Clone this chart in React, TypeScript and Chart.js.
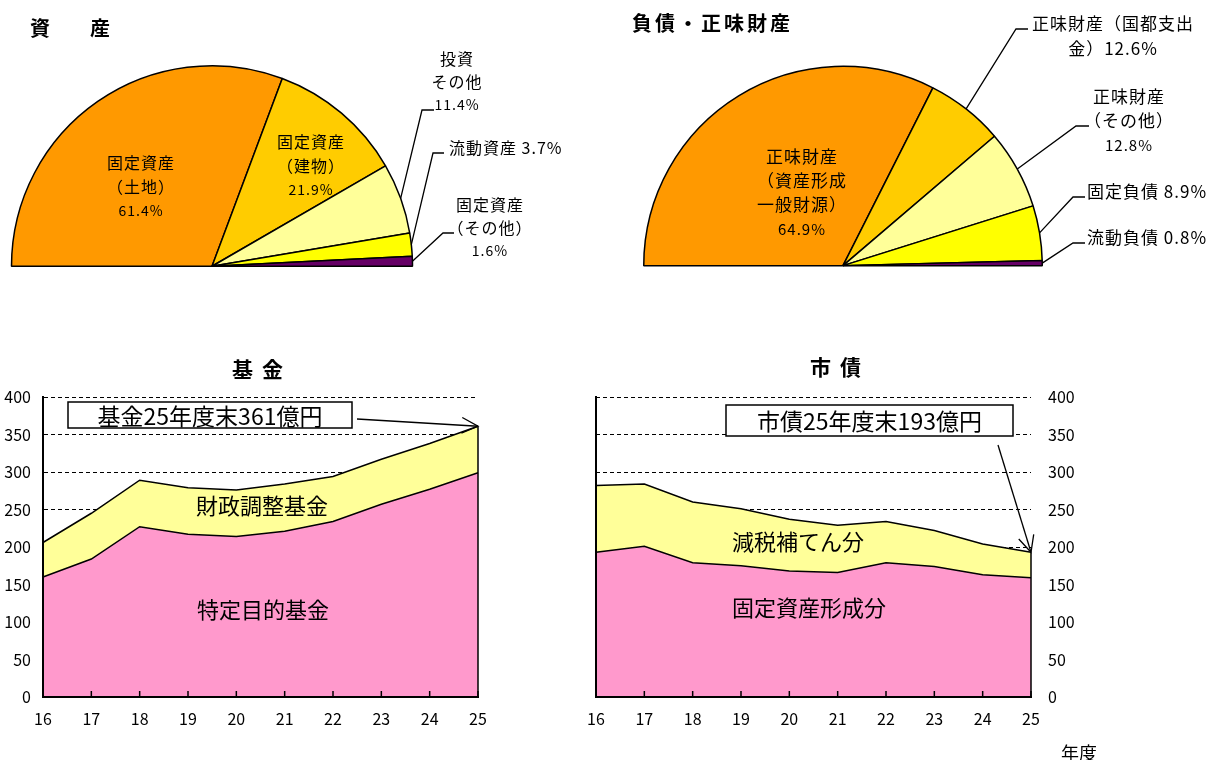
import React, { useEffect, useRef } from "react";
import { Chart, registerables } from "chart.js";

Chart.register(...registerables);

// ---------------- data ----------------
const assetCategories = ["固定資産（土地）", "固定資産（建物）", "投資その他", "流動資産", "固定資産（その他）"];
const assetShares = [61.4, 21.9, 11.4, 3.7, 1.6];

const liabilityCategories = ["正味財産（資産形成一般財源）", "正味財産（国都支出金）", "正味財産（その他）", "固定負債", "流動負債"];
const liabilityShares = [64.9, 12.6, 12.8, 8.9, 0.8];

const fiscalYears = ["16", "17", "18", "19", "20", "21", "22", "23", "24", "25"];
const fundSpecificPurpose = [160, 184, 227, 217, 214, 221, 234, 257, 277, 299];
const fundFiscalAdjustment = [46, 61, 62, 62, 62, 63, 60, 60, 61, 62];
const bondFixedAsset = [193, 201, 179, 175, 168, 166, 179, 174, 163, 159];
const bondTaxCompensation = [89, 83, 81, 76, 69, 63, 55, 48, 41, 34];

const yAxisMin = 0;
const yAxisMax = 400;
const yAxisStep = 50;

// ---------------- styles ----------------
const JP = '"Noto Sans CJK JP", "Noto Sans", sans-serif';
const sliceColors = ["#FF9900", "#FFCC00", "#FFFF99", "#FFFF00", "#660066"];
const PINK = "#FF99CC";
const PALE = "#FFFF99";

const pct = (v: number) => `${v.toFixed(1)}%`;

// label layout (page coordinates)
const assetLabelLayout = [
  { slice: 0, lines: ["固定資産", "（土地）", pct(assetShares[0])], x: 141, y: 163, lh: 24, align: "center" },
  { slice: 1, lines: ["固定資産", "（建物）", pct(assetShares[1])], x: 311, y: 142, lh: 24, align: "center" },
  { slice: 2, lines: ["投資", "その他", pct(assetShares[2])], x: 457, y: 59, lh: 23, align: "center", leader: [[422, 110], [434, 110]] },
  { slice: 3, lines: ["流動資産 " + pct(assetShares[3])], x: 449, y: 148, lh: 23, align: "left", leader: [[433, 153], [444, 153]] },
  { slice: 4, lines: ["固定資産", "（その他）", pct(assetShares[4])], x: 490, y: 205, lh: 23, align: "center", leader: [[443, 233], [454, 233]] },
];

const liabilityLabelLayout = [
  { slice: 0, lines: ["正味財産", "（資産形成", "一般財源）", pct(liabilityShares[0])], x: 802, y: 157, lh: 24, align: "center" },
  { slice: 1, lines: ["正味財産（国都支出", "金）" + pct(liabilityShares[1])], x: 1113, y: 24, lh: 25, align: "center", leader: [[1016, 29], [1028, 29]] },
  { slice: 2, lines: ["正味財産", "（その他）", pct(liabilityShares[2])], x: 1129, y: 97, lh: 24, align: "center", leader: [[1076, 126], [1089, 126]] },
  { slice: 3, lines: ["固定負債 " + pct(liabilityShares[3])], x: 1087, y: 192, lh: 24, align: "left", leader: [[1073, 197], [1085, 197]] },
  { slice: 4, lines: ["流動負債 " + pct(liabilityShares[4])], x: 1087, y: 238, lh: 24, align: "left", leader: [[1073, 243], [1085, 243]] },
];

function polyline(ctx: any, pts: number[][]) {
  ctx.beginPath();
  ctx.moveTo(pts[0][0], pts[0][1]);
  for (let i = 1; i < pts.length; i++) ctx.lineTo(pts[i][0], pts[i][1]);
  ctx.stroke();
}

function pieDeco(cfg: any) {
  return {
    id: "pieDeco",
    afterDraw(chart: any) {
      const ctx = chart.ctx;
      const meta = chart.getDatasetMeta(0);
      ctx.save();
      ctx.translate(-cfg.left, -cfg.top);
      ctx.fillStyle = "#000";
      ctx.strokeStyle = "#000";
      // title
      ctx.font = `bold 20px ${JP}`;
      ctx.textAlign = "left";
      ctx.textBaseline = "middle";
      ctx.letterSpacing = cfg.titleSpacing;
      ctx.fillText(cfg.title, cfg.titleX, cfg.titleY);
      ctx.letterSpacing = "1px";
      for (const lab of cfg.labels) {
        if (lab.leader) {
          const arc = meta.data[lab.slice];
          const p = arc.getProps(["x", "y", "startAngle", "endAngle", "outerRadius"], true);
          const mid = (p.startAngle + p.endAngle) / 2;
          const sx = p.x + Math.cos(mid) * p.outerRadius + cfg.left;
          const sy = p.y + Math.sin(mid) * p.outerRadius + cfg.top;
          ctx.lineWidth = 1.3;
          polyline(ctx, [[sx, sy], ...lab.leader]);
        }
        ctx.textAlign = lab.align;
        ctx.textBaseline = "middle";
        lab.lines.forEach((t: string, i: number) => {
          const isPct = /^[0-9.]+%$/.test(t);
          ctx.font = `${isPct ? cfg.fontSize - 2 : cfg.fontSize}px ${JP}`;
          ctx.fillText(t, lab.x, lab.y + i * lab.lh);
        });
      }
      ctx.restore();
    },
  };
}

function buildPie(values: number[], categories: string[], cfg: any) {
  return {
    type: "pie",
    data: {
      labels: categories,
      datasets: [{ data: values, backgroundColor: sliceColors, borderColor: "#000", borderWidth: 1.5 }],
    },
    options: {
      responsive: false,
      animation: false,
      events: [],
      rotation: -90,
      circumference: 180,
      layout: { padding: cfg.padding },
      plugins: { legend: { display: false }, tooltip: { enabled: false } },
    },
    plugins: [pieDeco(cfg)],
  };
}

function arrow(ctx: any, x1: number, y1: number, x2: number, y2: number) {
  ctx.lineWidth = 1.3;
  polyline(ctx, [[x1, y1], [x2, y2]]);
  const a = Math.atan2(y2 - y1, x2 - x1);
  const L = 18;
  const w = 0.45;
  polyline(ctx, [
    [x2 - L * Math.cos(a - w), y2 - L * Math.sin(a - w)],
    [x2, y2],
    [x2 - L * Math.cos(a + w), y2 - L * Math.sin(a + w)],
  ]);
}

function areaDeco(cfg: any) {
  return {
    id: "areaDeco",
    afterDraw(chart: any) {
      const ctx = chart.ctx;
      const xs = chart.scales.x;
      const ys = chart.scales.y;
      const topPts = chart.getDatasetMeta(1).data;
      const base = ys.getPixelForValue(0);
      ctx.save();
      ctx.strokeStyle = "#000";
      ctx.fillStyle = "#000";
      ctx.lineWidth = 1.5;
      [0, topPts.length - 1].forEach((i) => polyline(ctx, [[topPts[i].x, topPts[i].y], [topPts[i].x, base]]));
      ctx.lineWidth = 1.5;
      for (let i = 0; i < xs.ticks.length; i++) {
        const x = xs.getPixelForTick(i);
        polyline(ctx, [[x, base], [x, base - 6]]);
      }
      const last = topPts[topPts.length - 1];
      const endX = last.x + cfg.left;
      const endY = last.y + cfg.top;
      ctx.translate(-cfg.left, -cfg.top);
      // title
      ctx.font = `bold 21px ${JP}`;
      ctx.textAlign = "left";
      ctx.textBaseline = "middle";
      ctx.letterSpacing = "9px";
      ctx.fillText(cfg.title, cfg.titleX, cfg.titleY);
      ctx.letterSpacing = "0px";
      ctx.textAlign = "center";
      // area labels
      ctx.font = `22px ${JP}`;
      for (const l of cfg.areaLabels) ctx.fillText(l.text, l.x, l.y);
      // box
      const b = cfg.box;
      ctx.fillStyle = "#fff";
      ctx.fillRect(b.x1, b.y1, b.x2 - b.x1, b.y2 - b.y1);
      ctx.lineWidth = 1.5;
      ctx.strokeRect(b.x1, b.y1, b.x2 - b.x1, b.y2 - b.y1);
      ctx.fillStyle = "#000";
      ctx.font = `23px ${JP}`;
      ctx.fillText(b.text, (b.x1 + b.x2) / 2, (b.y1 + b.y2) / 2 + 1);
      arrow(ctx, cfg.arrowFrom[0], cfg.arrowFrom[1], endX, endY);
      if (cfg.unit) {
        ctx.font = `18px ${JP}`;
        ctx.fillText(cfg.unit.text, cfg.unit.x, cfg.unit.y);
      }
      ctx.restore();
    },
  };
}

const tickFont = { family: JP, size: 16 };

function buildArea(lower: number[], upper: number[], names: string[], side: "left" | "right", cfg: any) {
  const scales: any = {
    x: {
      grid: { display: false, drawTicks: false },
      border: { display: true, color: "#000", width: 2, z: 1 },
      ticks: { color: "#000", font: tickFont, padding: 12, maxRotation: 0, autoSkip: false },
      afterFit: (s: any) => { s.height = 63; },
    },
    y: {
      position: side,
      stacked: true,
      min: yAxisMin,
      max: yAxisMax,
      ticks: { stepSize: yAxisStep, color: "#000", font: tickFont, padding: side === "left" ? 12 : 17 },
      grid: { color: "#000", lineWidth: 1, drawTicks: false },
      border: { display: side === "left", color: "#000", width: 2, dash: [4, 3], z: 1 },
      afterFit: (s: any) => { s.width = cfg.axisWidth; },
    },
  };
  if (side === "right") {
    scales.yL = {
      position: "left",
      min: yAxisMin,
      max: yAxisMax,
      ticks: { display: false },
      grid: { display: false, drawTicks: false },
      border: { display: true, color: "#000", width: 2, z: 1 },
      afterFit: (s: any) => { s.width = cfg.leftWidth; },
    };
  }
  return {
    type: "line",
    data: {
      labels: fiscalYears,
      datasets: [
        { label: names[0], data: lower, backgroundColor: PINK, borderColor: "#000", borderWidth: 1.5, fill: "origin", pointRadius: 0, tension: 0 },
        { label: names[1], data: upper, backgroundColor: PALE, borderColor: "#000", borderWidth: 1.5, fill: "-1", pointRadius: 0, tension: 0 },
      ],
    },
    options: {
      responsive: false,
      animation: false,
      events: [],
      layout: { padding: cfg.padding },
      plugins: { legend: { display: false }, tooltip: { enabled: false } },
      scales,
    },
    plugins: [areaDeco(cfg)],
  };
}

const panels = [
  {
    left: 0, top: 0, width: 600, height: 290,
    build: () => buildPie(assetShares, assetCategories, {
      left: 0, top: 0, padding: { left: 10, right: 186, top: 65, bottom: 23 },
      title: "資　　産", titleX: 30, titleY: 28, titleSpacing: "0px", fontSize: 16, labels: assetLabelLayout,
    }),
  },
  {
    left: 600, top: 0, width: 612, height: 290,
    build: () => buildPie(liabilityShares, liabilityCategories, {
      left: 600, top: 0, padding: { left: 43, right: 169, top: 65, bottom: 23 },
      title: "負債・正味財産", titleX: 632, titleY: 23, titleSpacing: "3px", fontSize: 17, labels: liabilityLabelLayout,
    }),
  },
  {
    left: 0, top: 340, width: 600, height: 420,
    build: () => buildArea(fundSpecificPurpose, fundFiscalAdjustment, ["特定目的基金", "財政調整基金"], "left", {
      left: 0, top: 340, padding: { left: 0, right: 122, top: 57, bottom: 0 }, axisWidth: 43,
      title: "基金", titleX: 232, titleY: 369,
      areaLabels: [{ text: "財政調整基金", x: 262, y: 506 }, { text: "特定目的基金", x: 263, y: 610 }],
      box: { x1: 68, y1: 402, x2: 352, y2: 428, text: "基金25年度末361億円" },
      arrowFrom: [357, 419],
    }),
  },
  {
    left: 556, top: 340, width: 656, height: 420,
    build: () => buildArea(bondFixedAsset, bondTaxCompensation, ["固定資産形成分", "減税補てん分"], "right", {
      left: 556, top: 340, padding: { left: 0, right: 0, top: 57, bottom: 0 }, axisWidth: 181, leftWidth: 40,
      title: "市債", titleX: 810, titleY: 367,
      areaLabels: [{ text: "減税補てん分", x: 798, y: 542 }, { text: "固定資産形成分", x: 809, y: 608 }],
      box: { x1: 726, y1: 405, x2: 1013, y2: 436, text: "市債25年度末193億円" },
      arrowFrom: [998, 445],
      unit: { text: "年度", x: 1079, y: 753 },
    }),
  },
];

function ChartCanvas({ left, top, width, height, build }: any) {
  const ref = useRef<HTMLCanvasElement | null>(null);
  useEffect(() => {
    const chart = new Chart(ref.current as HTMLCanvasElement, build() as any);
    return () => chart.destroy();
  }, []);
  return (
    <canvas
      ref={ref}
      width={width}
      height={height}
      style={{ position: "absolute", left, top, width, height }}
    />
  );
}

export default function App() {
  return (
    <div style={{ position: "absolute", left: 0, top: 0, width: 1212, height: 760, background: "#fff", overflow: "hidden" }}>
      {panels.map((p, i) => (
        <ChartCanvas key={i} {...p} />
      ))}
    </div>
  );
}
